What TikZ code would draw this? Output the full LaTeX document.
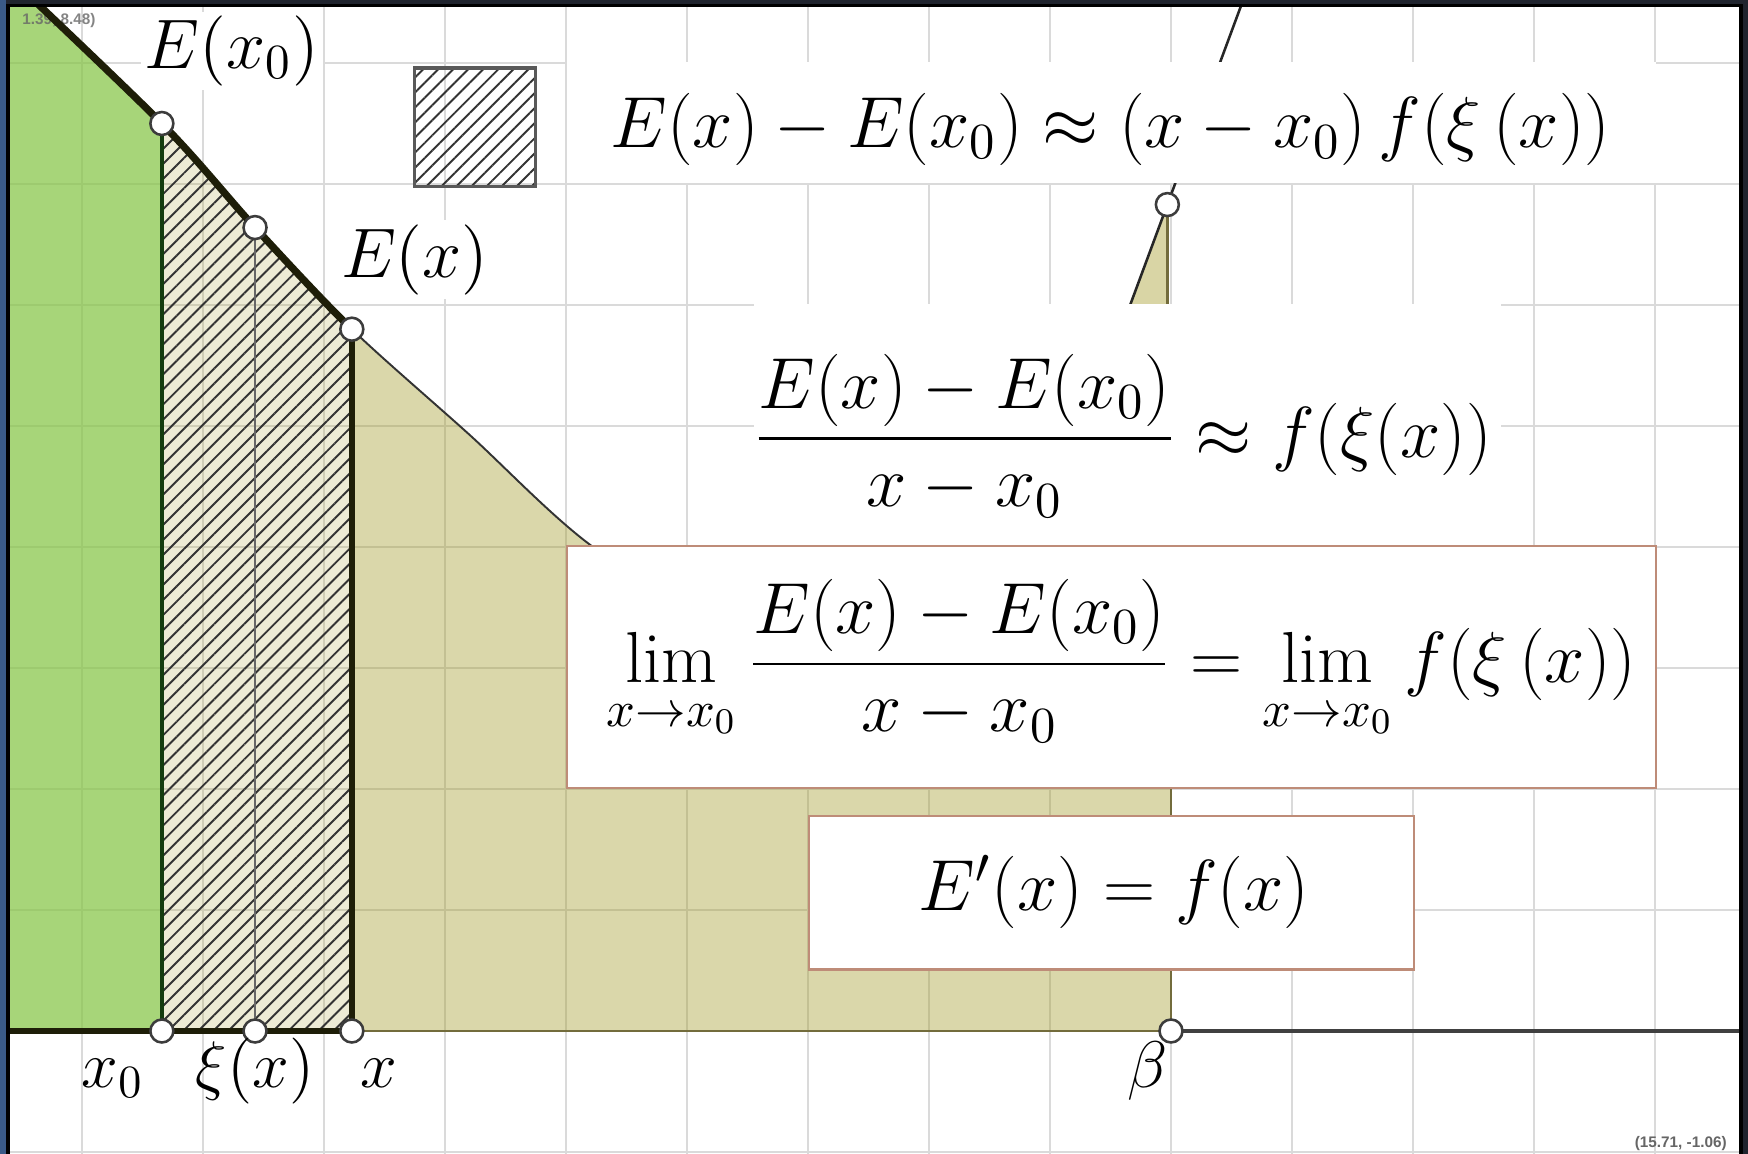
\RequirePackage{fix-cm}
\documentclass[tikz,border=0pt]{standalone}
\usepackage{amsmath}
\usepackage{fontspec}
\newfontfamily\cornerfont{Liberation Sans}
\usetikzlibrary{patterns,patterns.meta}
\definecolor{frameblue}{RGB}{58,90,135}
\definecolor{framedark}{RGB}{32,36,46}
\definecolor{gridc}{RGB}{218,218,218}
\definecolor{greenf}{RGB}{134,197,70}
\definecolor{olivef}{RGB}{160,152,32}
\definecolor{thickc}{RGB}{30,30,8}
\definecolor{xzeroc}{RGB}{20,60,15}
\definecolor{oliveline}{RGB}{115,108,60}
\definecolor{boxborder}{RGB}{190,140,120}
\definecolor{ptborder}{RGB}{60,60,60}
\begin{document}
\begin{tikzpicture}[x=1cm,y=1cm,
  lab/.style={font=\fontsize{17}{20}\selectfont, inner sep=1pt},
  elab/.style={font=\fontsize{16.5}{20}\selectfont, inner sep=1pt, fill=white},
  axlab/.style={font=\fontsize{15.5}{19}\selectfont, inner sep=1pt, anchor=base},
  pt/.style={circle, draw=ptborder, fill=white, line width=0.6pt, minimum size=0.19cm, inner sep=0pt},
  plainbox/.style={fill=white, inner sep=0pt, anchor=south west},
  bordbox/.style={fill=white, draw=boxborder, line width=0.5pt, inner sep=0pt, anchor=south west},
  corner/.style={font=\cornerfont\bfseries\fontsize{3.6}{4}\selectfont, inner sep=0pt},
  hatch/.style={pattern={Lines[angle=45, distance=2.5pt, line width=0.45pt]}, pattern color=black!80},
]
\useasboundingbox (1.3223,-1.0165) rectangle (15.769,8.521);
\fill[framedark] (1.3223,-1.0165) rectangle (15.769,8.521);
\fill[frameblue] (1.3223,-1.0165) rectangle (1.375,8.521);
\begin{scope}
\clip (1.39,-1.1) rectangle (15.71,8.475);
\fill[white] (1.39,-1.1) rectangle (15.71,8.475);
\draw[gridc, line width=0.5pt] (1.39,-1.1) grid (15.71,8.475);

% key coordinates
\coordinate (L) at (1.3,0);
\coordinate (X0) at (2.66,0);  \coordinate (EX0) at (2.66,7.5);
\coordinate (XI) at (3.43,0);  \coordinate (EXI) at (3.43,6.64);
\coordinate (X) at (4.23,0);   \coordinate (EX) at (4.23,5.8);
\coordinate (B) at (11,0);     \coordinate (BT) at (11,2.4);
\coordinate (R) at (15.8,0);

% filled regions under the curve
\begin{scope}
\clip plot[smooth] coordinates {(1.2,8.9) (2.66,7.5) (3.43,6.64) (4.23,5.8) (5.2,4.93) (6.21,4.01) (7.6,3.15) (9.2,2.65) (11.4,2.35)} -- (11.4,0) -- (1.2,0) -- cycle;
\fill[greenf, fill opacity=0.72] (1.2,0) rectangle (2.66,9);
\fill[olivef, fill opacity=0.19] (2.66,0) rectangle (4.23,9);
\fill[hatch] (2.66,0) rectangle (4.23,9);
\fill[olivef, fill opacity=0.38] (4.23,0) rectangle (11,9);
\end{scope}

\node[corner, text=black!60, text opacity=0.8, anchor=north west] (tl) at (1.50,8.42) {1.39, 8.48)};

% curve
\draw[black!80, line width=0.45pt] plot[smooth] coordinates {(1.2,8.9) (2.66,7.5) (3.43,6.64) (4.23,5.8) (5.2,4.93) (6.21,4.01) (7.6,3.15) (9.2,2.65) (11.4,2.35)};
\begin{scope}
\clip (1.2,-1) rectangle (4.23,9);
\draw[thickc, line width=1.7pt] plot[smooth] coordinates {(1.2,8.9) (2.66,7.5) (3.43,6.64) (4.23,5.8) (5.2,4.93) (6.21,4.01) (7.6,3.15) (9.2,2.65) (11.4,2.35)};
\end{scope}

% axis and verticals
\draw[oliveline, line width=0.5pt] (X) -- (B);
\draw[black!75, line width=0.8pt] (B) -- (R);
\draw[thickc, line width=1.3pt] (L) -- (X);
\draw[xzeroc, line width=0.8pt] (X0) -- (EX0);
\draw[black!60, line width=0.4pt] (XI) -- (EXI);
\draw[thickc, line width=1.3pt] (X) -- (EX);
\draw[oliveline, line width=0.5pt] (B) -- (BT);

% slope triangle
\coordinate (TA) at (10.292,5.0);
\coordinate (TC) at (10.97,6.83);
\coordinate (TB) at (10.97,5.0);
\coordinate (TT) at (11.626,8.6);
\fill[olivef, fill opacity=0.4] (TA) -- (TC) -- (TB) -- cycle;
\draw[oliveline, line width=0.6pt] (TC) -- (TB);
\draw[black!85, line width=0.6pt] (TA) -- (TT);

% hatched legend square
\draw[black!65, line width=0.8pt, hatch] (4.75,6.98) rectangle (5.75,7.96);

% text boxes
\node[plainbox, minimum width=9cm, minimum height=1cm] (box1) at (6,7) {};
\node[plainbox, minimum width=6.17cm, minimum height=2cm] (box2) at (7.55,4) {};
\node[bordbox, minimum width=9cm, minimum height=2cm] (box3) at (6,2) {};
\node[bordbox, minimum width=5cm, minimum height=1.27cm] (box4) at (8,0.5) {};

\node[lab] (f1) at (10.5,7.45) {$E(x)-E(x_0)\approx(x-x_0)\,f(\xi\,(x))$};
\node[lab] (f2) at (10.6,4.92) {$\displaystyle\frac{E(x)-E(x_0)}{x-x_0}\approx f(\xi(x))$};
\node[lab] (f3) at (10.59,3.06) {$\displaystyle\lim_{x\to x_0}\frac{E(x)-E(x_0)}{x-x_0}=\lim_{x\to x_0}f(\xi\,(x))$};
\node[lab] (f4) at (10.53,1.15) {$E'(x)=f(x)$};

% points
\node[pt] (pEX0) at (EX0) {};
\node[pt] (pEXI) at (EXI) {};
\node[pt] (pEX) at (EX) {};
\node[pt] (pX0) at (X0) {};
\node[pt] (pXI) at (XI) {};
\node[pt] (pX) at (X) {};
\node[pt] (pB) at (B) {};
\node[pt] (pTC) at (TC) {};

% labels
\node[elab] (lEX0) at (3.24,8.10) {$E(x_0)$};
\node[elab] (lEX) at (4.75,6.375) {$E(x)$};
\node[axlab] (lX0) at (2.253,-0.47) {$x_0$};
\node[axlab] (lXI) at (3.43,-0.47) {$\xi(x)$};
\node[axlab] (lX) at (4.45,-0.47) {$x$};
\node[axlab] (lB) at (10.81,-0.47) {$\beta$};

\node[corner, text=black!60, anchor=south east] (br) at (15.60,-1.0) {(15.71, -1.06)};
\end{scope}
\draw[black, line width=0.8pt] (1.39,-1.1) rectangle (15.71,8.475);
\end{tikzpicture}
\end{document}
